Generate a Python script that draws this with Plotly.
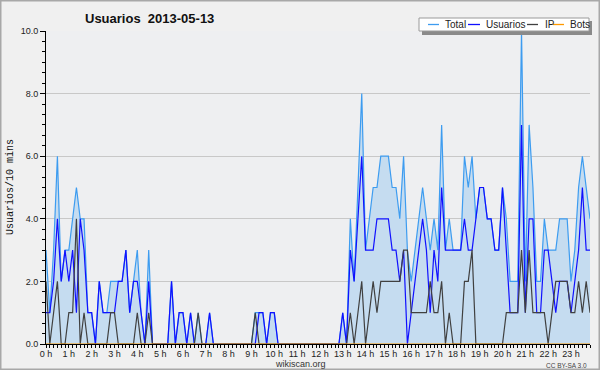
import plotly.graph_objects as go

# ---- data (10-minute buckets, 2013-05-13) ----
minutes = list(range(0, 1440, 10))

total = [3,1,3,6,2,3,3,4,5,4,4,1,
         1,0,2,1,1,2,2,2,2,3,1,2,
         3,1,0,3,0,0,0,0,0,2,0,1,
         1,0,1,0,1,0,0,1,0,0,0,0,
         0,0,0,0,0,0,0,1,1,1,0,1,
         1,0,0,0,0,0,0,0,0,0,0,0,
         0,0,0,0,0,0,1,0,4,2,5,8,
         3,4,5,5,6,6,6,5,5,4,6,3,
         2,3,4,5,4,3,4,3,7,3,4,3,
         3,3,6,5,6,4,5,5,4,4,3,3,
         5,4,2,2,2,10,2,7,5,2,2,4,
         3,3,3,4,4,4,2,3,5,6,5,4]

usuarios = [1,1,2,4,2,3,2,3,1,4,3,1,
            1,0,2,1,1,1,1,2,2,3,1,2,
            2,1,0,2,0,0,0,0,0,2,0,1,
            1,0,1,0,0,0,0,1,0,0,0,0,
            0,0,0,0,0,0,0,0,1,1,0,1,
            1,0,0,0,0,0,0,0,0,0,0,0,
            0,0,0,0,0,0,1,0,3,2,4,6,
            3,3,3,4,4,4,4,3,3,2,3,0,
            1,2,3,4,3,1,3,2,5,3,3,3,
            3,3,4,3,3,4,5,5,4,4,3,3,
            5,3,1,1,1,7,1,4,4,1,1,3,
            3,2,1,2,2,2,1,2,3,5,3,3]

ip = [2,0,1,2,0,0,1,1,4,0,1,0,
      0,0,0,0,0,1,1,0,0,0,0,0,
      1,0,0,1,0,0,0,0,0,0,0,0,
      0,0,0,0,1,0,0,0,0,0,0,0,
      0,0,0,0,0,0,0,1,0,0,0,0,
      0,0,0,0,0,0,0,0,0,0,0,0,
      0,0,0,0,0,0,0,0,1,0,1,2,
      0,1,2,1,2,2,2,2,2,2,3,3,
      1,1,1,1,1,2,1,1,2,0,1,0,
      0,0,2,2,3,0,0,0,0,0,0,0,
      0,1,1,1,1,3,1,3,1,1,1,1,
      0,1,2,2,2,2,1,1,2,1,2,1]

bots = [0,0,0,0,0,0,0,0,0,0,0,0,
        0,0,0,0,0,0,0,0,0,0,0,0,
        0,0,0,0,0,0,0,0,0,0,0,0,
        0,0,0,0,0,0,0,0,0,0,0,0,
        0,0,0,0,0,0,0,0,0,0,0,0,
        0,0,0,0,0,0,0,0,0,0,0,0,
        0,0,0,0,0,0,0,0,0,0,0,0,
        0,0,0,0,0,0,0,0,0,0,0,0,
        0,0,0,0,0,0,0,0,0,0,0,0,
        0,0,0,0,0,0,0,0,0,0,0,0,
        0,0,0,0,0,0,0,0,0,0,0,0,
        0,0,0,0,0,0,0,0,0,0,0,0]

hour_ticks = [0,60,120,180,240,300,360,420,480,540,600,660,720,780,840,900,960,1020,1080,1140,1200,1260,1320,1380]
hour_labels = ["0 h","1 h","2 h","3 h","4 h","5 h","6 h","7 h","8 h","9 h","10 h","11 h",
               "12 h","13 h","14 h","15 h","16 h","17 h","18 h","19 h","20 h","21 h","22 h","23 h"]

series_names = ["Total", "Usuarios", "IP", "Bots"]
series_colors = ["#3d9cf0", "#1010ff", "#404040", "#ff9900"]

# ---- layout geometry ----
W, H = 600, 370
L, R, T, B = 46, 10, 31, 26
PW, PH = W - L - R, H - T - B

def px_x(px):
    return (px - L) / PW

def px_y(py):
    return (T + PH - py) / PH

FONT = "Liberation Sans, Arial, sans-serif"

fig = go.Figure()
fig.add_trace(go.Scatter(x=minutes, y=total, mode="lines", fill="tozeroy",
                         fillcolor="#c5dcf0", line=dict(color=series_colors[0], width=1.2),
                         name=series_names[0]))
fig.add_trace(go.Scatter(x=minutes, y=usuarios, mode="lines",
                         line=dict(color=series_colors[1], width=1.2), name=series_names[1]))
fig.add_trace(go.Scatter(x=minutes, y=ip, mode="lines",
                         line=dict(color=series_colors[2], width=1.2), name=series_names[2]))
fig.add_trace(go.Scatter(x=minutes, y=bots, mode="lines",
                         line=dict(color=series_colors[3], width=1.2), name=series_names[3]))

shapes = []
annotations = []

# outer border
shapes.append(dict(type="rect", xref="paper", yref="paper",
                   x0=px_x(0.5), x1=px_x(W - 0.5), y0=px_y(H - 0.5), y1=px_y(0.5),
                   line=dict(color="#a8a8a8", width=2), layer="above"))

# legend box with shadow
shapes.append(dict(type="rect", xref="paper", yref="paper",
                   x0=px_x(422), x1=px_x(592), y0=px_y(35), y1=px_y(21),
                   fillcolor="#8a8a8a", line=dict(width=0), layer="above"))
shapes.append(dict(type="rect", xref="paper", yref="paper",
                   x0=px_x(419), x1=px_x(589), y0=px_y(31), y1=px_y(18),
                   fillcolor="white", line=dict(color="#9a9a9a", width=1), layer="above"))

leg_line_x = [(428, 439), (468, 480), (527, 538), (553, 564)]
leg_text_x = [443, 484, 543, 568]
for name, col, (a, b), tx in zip(series_names, series_colors, leg_line_x, leg_text_x):
    shapes.append(dict(type="line", xref="paper", yref="paper",
                       x0=px_x(a), x1=px_x(b), y0=px_y(24.5), y1=px_y(24.5),
                       line=dict(color=col, width=1.3), layer="above"))
    annotations.append(dict(text=name, xref="paper", yref="paper", x=px_x(tx), y=px_y(24.5),
                            xanchor="left", yanchor="middle", showarrow=False,
                            font=dict(family=FONT, size=10, color="#222")))

# y-axis title
annotations.append(dict(text="Usuarios/10 mins", xref="paper", yref="paper",
                        x=px_x(10.5), y=0.5, textangle=-90, xanchor="center", yanchor="middle",
                        showarrow=False,
                        font=dict(family="Liberation Mono, DejaVu Sans Mono, monospace", size=10, color="#111")))
# footer texts
annotations.append(dict(text="wikiscan.org", xref="paper", yref="paper",
                        x=px_x(300), y=px_y(364), xanchor="center", yanchor="middle",
                        showarrow=False, font=dict(family=FONT, size=9, color="#333")))
annotations.append(dict(text="CC BY-SA 3.0", xref="paper", yref="paper",
                        x=px_x(589), y=px_y(365.5), xanchor="right", yanchor="middle",
                        showarrow=False, font=dict(family=FONT, size=6.5, color="#444")))

fig.update_layout(
    width=W, height=H,
    margin=dict(l=L, r=R, t=T, b=B, pad=0),
    paper_bgcolor="#f0f0f0",
    plot_bgcolor="#eeeff1",
    showlegend=False,
    title=dict(text="<b>Usuarios\u00a0 2013-05-13</b>", x=85 / W, xanchor="left", xref="container",
               y=1 - 18.5 / H, yanchor="middle", yref="container",
               font=dict(family=FONT, size=13, color="#111")),
    shapes=shapes,
    annotations=annotations,
    xaxis=dict(range=[0, 1430], tickmode="array", tickvals=hour_ticks, ticktext=hour_labels,
               showgrid=False, zeroline=False, showline=True, linecolor="black", linewidth=1,
               ticks="outside", ticklen=3, tickcolor="black", tickwidth=1,
               ticklabelstandoff=-2,
               tickfont=dict(family=FONT, size=9, color="#222"),
               minor=dict(tickmode="linear", tick0=0, dtick=10, ticks="outside", ticklen=3,
                          tickcolor="black", showgrid=False),
               fixedrange=True),
    yaxis=dict(range=[0, 10], dtick=2, tick0=0, tickformat=".1f",
               showgrid=True, gridcolor="#c8c8c8", gridwidth=1, zeroline=False,
               showline=True, linecolor="black", linewidth=1,
               ticks="outside", ticklen=5, tickcolor="black", tickwidth=1,
               tickfont=dict(family=FONT, size=9, color="#222"),
               minor=dict(tickmode="linear", tick0=0, dtick=1/3, ticks="outside", ticklen=3,
                          tickcolor="black", showgrid=False),
               fixedrange=True),
)

fig.write_html("out.html", config={"displayModeBar": False},
               post_script="document.body.style.margin='0';document.body.style.overflow='hidden';")
